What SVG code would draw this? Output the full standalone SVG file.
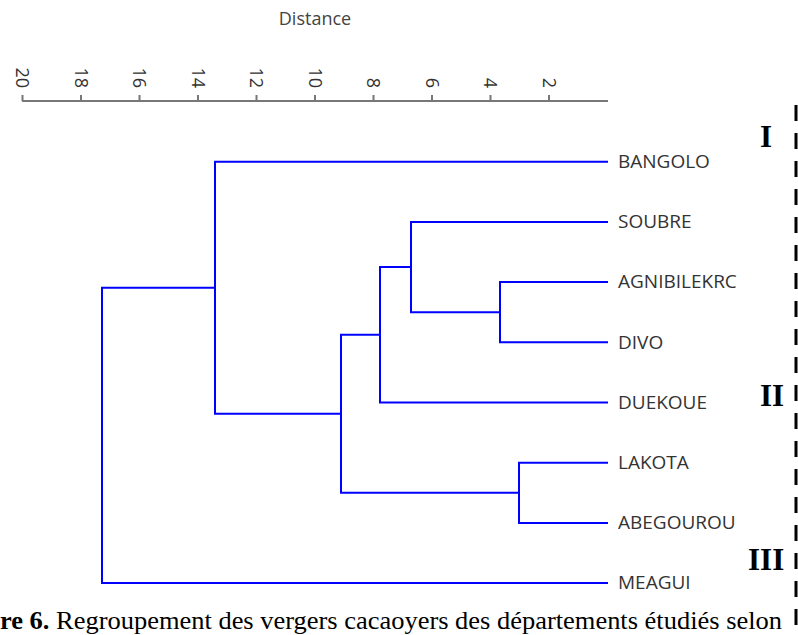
<svg xmlns="http://www.w3.org/2000/svg" width="798" height="635" viewBox="0 0 798 635">
  <style>
    .axis { stroke: #777; stroke-width: 2; fill: none; }
    .tick-label { font-family: "Open Sans", "DejaVu Sans", sans-serif; font-size: 18px; fill: #333; text-anchor: end; }
    .title { font-family: "Open Sans", "DejaVu Sans", sans-serif; font-size: 18px; fill: #444; text-anchor: middle; }
    .branch { stroke: #0000ff; stroke-width: 2; fill: none; stroke-linejoin: miter; stroke-linecap: square; }
    .leaf-label { font-family: "Open Sans", "DejaVu Sans", sans-serif; font-size: 19px; fill: #333; }
    .group-label { font-family: "Liberation Serif", "Times New Roman", serif; font-size: 31px; font-weight: bold; fill: #000; }
    .caption { font-family: "Liberation Serif", "Times New Roman", serif; font-size: 26px; fill: #000; }
    .divider { stroke: #000; stroke-width: 3; stroke-dasharray: 16 12; fill: none; }
  </style>

  <rect width="798" height="635" fill="#fff"/>

  <!-- distance axis -->
  <g id="axis">
    <text class="title" x="315" y="25">Distance</text>
    <path class="axis" d="M22,101 H608 M22.5,95 V101 M81,95 V101 M139.5,95 V101 M198,95 V101 M256.5,95 V101 M315,95 V101 M373.5,95 V101 M432,95 V101 M490.5,95 V101 M549,95 V101"/>
    <text class="tick-label" transform="translate(16,88) rotate(90)">20</text>
    <text class="tick-label" transform="translate(74.5,88) rotate(90)">18</text>
    <text class="tick-label" transform="translate(133,88) rotate(90)">16</text>
    <text class="tick-label" transform="translate(191.5,88) rotate(90)">14</text>
    <text class="tick-label" transform="translate(250,88) rotate(90)">12</text>
    <text class="tick-label" transform="translate(308.5,88) rotate(90)">10</text>
    <text class="tick-label" transform="translate(367,88) rotate(90)">8</text>
    <text class="tick-label" transform="translate(425.5,88) rotate(90)">6</text>
    <text class="tick-label" transform="translate(484,88) rotate(90)">4</text>
    <text class="tick-label" transform="translate(542.5,88) rotate(90)">2</text>
  </g>

  <!-- dendrogram branches -->
  <g id="connectors">
    <!-- AGNIBILEKRC + DIVO -->
    <path class="branch" d="M607,282.1 H500 V342.3 H607"/>
    <!-- SOUBRE + (AGNIBILEKRC, DIVO) -->
    <path class="branch" d="M607,221.9 H411 V312.2 H500"/>
    <!-- + DUEKOUE -->
    <path class="branch" d="M411,267 H380 V402.5 H607"/>
    <!-- LAKOTA + ABEGOUROU -->
    <path class="branch" d="M607,462.7 H519 V522.9 H607"/>
    <!-- two sub-clusters joined -->
    <path class="branch" d="M380,334.8 H341 V492.8 H519"/>
    <!-- + BANGOLO -->
    <path class="branch" d="M607,161.7 H215 V413.8 H341"/>
    <!-- root: + MEAGUI -->
    <path class="branch" d="M215,287.7 H102 V583.1 H607"/>
  </g>

  <!-- leaves -->
  <g id="leaf-bangolo"><text class="leaf-label" x="618" y="168">BANGOLO</text></g>
  <g id="leaf-soubre"><text class="leaf-label" x="618" y="228.2">SOUBRE</text></g>
  <g id="leaf-agnibilekrc"><text class="leaf-label" x="618" y="288.4">AGNIBILEKRC</text></g>
  <g id="leaf-divo"><text class="leaf-label" x="618" y="348.6">DIVO</text></g>
  <g id="leaf-duekoue"><text class="leaf-label" x="618" y="408.8">DUEKOUE</text></g>
  <g id="leaf-lakota"><text class="leaf-label" x="618" y="469">LAKOTA</text></g>
  <g id="leaf-abegourou"><text class="leaf-label" x="618" y="529.2">ABEGOUROU</text></g>
  <g id="leaf-meagui"><text class="leaf-label" x="618" y="589.4">MEAGUI</text></g>

  <!-- group markers -->
  <g id="groups">
    <path class="divider" d="M796,105 V635"/>
    <text class="group-label" x="760" y="147">I</text>
    <text class="group-label" x="760" y="406">II</text>
    <text class="group-label" x="748" y="570">III</text>
  </g>

  <!-- caption -->
  <g id="caption">
    <text class="caption" x="0" y="629" textLength="782" lengthAdjust="spacingAndGlyphs"><tspan font-weight="bold">re 6.</tspan> Regroupement des vergers cacaoyers des départements étudiés selon</text>
  </g>
</svg>
